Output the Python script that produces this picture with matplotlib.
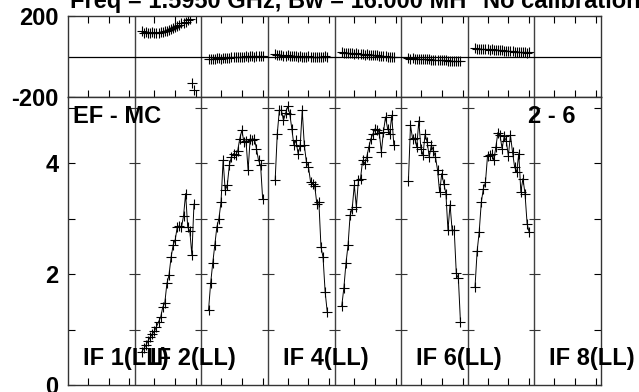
import numpy as np
import matplotlib
matplotlib.use("Agg")
import matplotlib.pyplot as plt

plt.rcParams['font.family'] = ['Liberation Sans', 'DejaVu Sans']
plt.rcParams['font.weight'] = 'bold'

# channels per IF, and the 8 IFs on one strip
nchan = 32
n_if = 8

# amplitude / phase per channel (start channel given separately)
if2_start = 4
if2_amp = [0.60, 0.66, 0.72, 0.80, 0.86, 0.92, 0.97, 1.05, 1.14, 1.22, 1.40, 1.48, 1.83,
           1.98, 2.30, 2.52, 2.62, 2.85, 2.87, 2.84, 3.05, 3.45, 2.84, 2.78, 2.34, 3.26]
if2_phase = [125, 118, 122, 115, 117, 119, 114, 118, 116, 121, 120, 124, 128,
             133, 135, 140, 146, 150, 158, 163, 167, 172, 178, 183, -130, -163]

if3_start = 4
if3_amp = [1.35, 1.83, 2.19, 2.52, 2.85, 3.00, 3.30, 4.05, 3.51, 3.60, 3.96, 4.11, 4.17, 4.14,
           4.22, 4.44, 4.59, 4.38, 4.40, 3.87, 4.44, 4.42, 4.44, 4.26, 4.05, 3.96, 3.35]
if3_phase = [-14, -12, -13, -10, -9, -8, -10, -7, -6, -5, -6, -4, -3, -2,
             -3, -1, 0, -1, 1, 0, 1, 2, 0, 1, 2, 1, 2]

if4_start = 4
if4_amp = [3.69, 4.52, 4.95, 4.95, 4.77, 4.90, 5.02, 4.89, 4.62, 4.32, 4.41, 4.17, 4.30,
           4.95, 4.32, 4.02, 3.93, 3.66, 3.63, 3.59, 3.27, 3.30, 2.49, 2.30, 1.68, 1.32]
if4_phase = [12, 9, 7, 5, 4, 3, 5, 2, 3, 1, 2, 0, 1,
             0, -1, 0, 1, -1, 0, 0, -1, 0, -1, 0, 1, 0]

if5_start = 4
if5_amp = [1.43, 1.75, 2.19, 2.52, 3.06, 3.18, 3.60, 3.21, 3.69, 3.72, 4.05, 3.99, 4.11,
           4.29, 4.44, 4.53, 4.62, 4.59, 4.55, 4.20, 4.56, 4.83, 4.62, 4.52, 4.86, 4.32]
if5_phase = [20, 18, 19, 16, 17, 15, 14, 15, 12, 11, 10, 9, 10,
             8, 7, 6, 5, 5, 3, 4, 2, 1, 0, -1, -2, -2]

if6_start = 4
if6_amp = [3.68, 4.68, 4.44, 4.45, 4.29, 4.76, 4.26, 4.14, 4.52, 4.38, 4.11, 4.32, 4.22,
           4.11, 3.87, 3.47, 3.81, 3.63, 3.45, 2.79, 3.25, 2.79, 2.79, 2.01, 1.92, 1.13]
if6_phase = [-8, -10, -9, -11, -10, -12, -12, -13, -12, -14, -14, -15, -15,
             -16, -17, -17, -18, -18, -19, -20, -20, -21, -22, -20, -23, -24]

if7_start = 4
if7_amp = [1.77, 2.41, 2.76, 3.29, 3.54, 3.65, 4.13, 4.14, 4.16, 4.05, 4.29, 4.55, 4.50, 4.26,
           4.48, 4.40, 4.13, 4.50, 4.20, 3.93, 3.83, 4.17, 3.48, 3.72, 3.45, 2.91, 2.75]
if7_phase = [40, 38, 39, 37, 36, 37, 35, 34, 35, 33, 32, 31, 30, 30,
             28, 27, 27, 26, 25, 24, 23, 23, 22, 21, 20, 19, 20]

if_labels = ['IF 1(LL)', 'IF 2(LL)', 'IF 4(LL)', 'IF 6(LL)', 'IF 8(LL)']
if_label_pos = [1, 2, 4, 6, 8]
baseline_name = 'EF - MC'
baseline_num = '2 - 6'
title_left = 'Freq = 1.5950 GHz, Bw = 16.000 MH'
title_right = 'No calibration'

series = [(2, if2_start, if2_amp, if2_phase),
          (3, if3_start, if3_amp, if3_phase),
          (4, if4_start, if4_amp, if4_phase),
          (5, if5_start, if5_amp, if5_phase),
          (6, if6_start, if6_amp, if6_phase),
          (7, if7_start, if7_amp, if7_phase)]

fs = 17

fig = plt.figure(figsize=(6.39, 3.92), dpi=100)
W, H = 639, 392
x0, x1 = 68, 601
axp = fig.add_axes([x0 / W, 1 - 97 / H, (x1 - x0) / W, 81 / H])
axa = fig.add_axes([x0 / W, 1 - 385 / H, (x1 - x0) / W, 288 / H])

xmax = nchan * n_if
bounds = [k * nchan for k in range(1, n_if)]
xt = [k * nchan + t - 0.5 for k in range(n_if) for t in (10, 20, 30)]

for ifn, start, amp, ph in series:
    x = (ifn - 1) * nchan + np.arange(start, start + len(amp)) - 0.5
    axa.plot(x, amp, color='black', lw=0.7, marker='+', ms=7, mew=0.8)
    xp = (ifn - 1) * nchan + np.arange(start, start + len(ph)) - 0.5
    # phase is plotted as points only
    axp.plot(xp, ph, color='black', ls='none', marker='+', ms=7, mew=0.8)

for ax in (axp, axa):
    ax.set_xlim(0, xmax)
    for b in bounds:
        ax.axvline(b, color='0.25', lw=1.0)
    for s in ax.spines.values():
        s.set_color('0.2')
        s.set_linewidth(1.0)
    ax.set_xticks(xt)
    ax.tick_params(axis='x', direction='in', length=5, width=0.8, top=True,
                   labelbottom=False, labeltop=False)
    ax.tick_params(axis='y', direction='in', length=5, width=0.8, right=True,
                   labelsize=fs, pad=7)

# phase panel
axp.set_ylim(-200, 200)
axp.set_yticks([-200, 200])
axp.set_yticklabels(['-200', '200'], fontweight='bold')
axp.axhline(0, color='black', lw=0.9)

# amplitude panel
axa.set_ylim(0, 5.19)
axa.set_yticks([0, 2, 4])
axa.set_yticklabels(['0', '2', '4'], fontweight='bold')
axa.set_yticks([1, 3, 5], minor=True)
axa.tick_params(axis='y', which='minor', direction='in', length=5, width=0.8, right=True)
axa.tick_params(axis='x', top=False)
for b in bounds:
    axa.hlines([1, 2, 3, 4, 5], b - 2.8, b + 2.8, color='0.2', lw=0.8)

for lab, p in zip(if_labels, if_label_pos):
    axa.text((p - 1) * nchan + 7.2, 0.36, lab, fontsize=fs, fontweight='bold',
             va='baseline', ha='left', clip_on=False)
axa.text(2.4, 4.72, baseline_name, fontsize=fs, fontweight='bold', va='baseline')
axa.text(220.7, 4.72, baseline_num, fontsize=fs, fontweight='bold', va='baseline')

fig.text(70 / W, 1 - 8.3 / H, title_left, fontsize=fs, fontweight='bold', va='baseline')
fig.text(483 / W, 1 - 8.3 / H, title_right, fontsize=fs, fontweight='bold', va='baseline')

fig.savefig('out.png', dpi=100)
